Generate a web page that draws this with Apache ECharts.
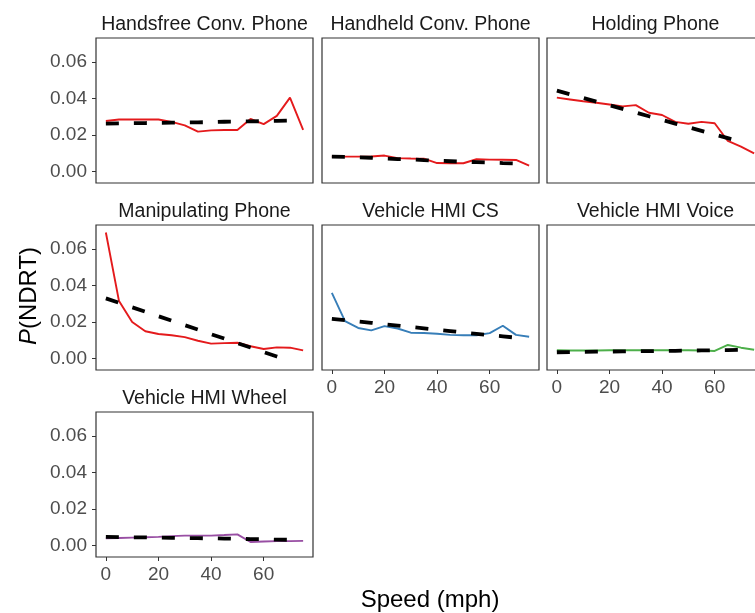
<!DOCTYPE html>
<html>
<head>
<meta charset="utf-8">
<script src="https://cdn.jsdelivr.net/npm/echarts@6/dist/echarts.min.js"></script>
<style>
html,body{margin:0;padding:0;background:#fff;overflow:hidden;}
#chart{width:772px;height:613px;}
</style>
</head>
<body>
<div id="chart"></div>
<script>
// ---- data ----
const speeds = [0,5,10,15,20,25,30,35,40,45,50,55,60,65,70,75];
const fitSpeeds = [0,5,10,15,20,25,30,35,40,45,50,55,60,65,70];
const yTicks = [0, 0.02, 0.04, 0.06];
const xTicks = [0, 20, 40, 60];
const panelTitles = ["Handsfree Conv. Phone","Handheld Conv. Phone","Holding Phone","Manipulating Phone","Vehicle HMI CS","Vehicle HMI Voice","Vehicle HMI Wheel"];

const handsfreeObs = [0.0277,0.0285,0.0285,0.0285,0.0285,0.0272,0.0253,0.0219,0.0226,0.0228,0.0228,0.0288,0.0260,0.0305,0.0405,0.0228];
const handsfreeFit = [0.0263,0.0264,0.0265,0.0266,0.0267,0.0268,0.0269,0.0270,0.0271,0.0273,0.0274,0.0275,0.0276,0.0278,0.0280];
const handheldObs = [0.0082,0.0082,0.0082,0.0083,0.0088,0.0074,0.0072,0.0071,0.0047,0.0046,0.0046,0.0068,0.0066,0.0065,0.0064,0.0033];
const handheldFit = [0.0082,0.0081,0.0078,0.0076,0.0072,0.0069,0.0067,0.0063,0.0060,0.0057,0.0054,0.0052,0.0050,0.0047,0.0045];
const holdingObs = [0.0405,0.0395,0.0385,0.0377,0.0367,0.0357,0.0364,0.0322,0.0310,0.0272,0.0262,0.0272,0.0265,0.0168,0.0137,0.0100];
const holdingFit = [0.0443,0.0423,0.0403,0.0383,0.0363,0.0343,0.0323,0.0303,0.0283,0.0263,0.0243,0.0223,0.0203,0.0183,0.0163];
const manipObs = [0.0690,0.0315,0.0200,0.0150,0.0135,0.0128,0.0118,0.0098,0.0082,0.0085,0.0087,0.0068,0.0053,0.0062,0.0060,0.0045];
const manipFit = [0.0330,0.0306,0.0281,0.0257,0.0232,0.0208,0.0183,0.0159,0.0134,0.0110,0.0085,0.0061,0.0036,0.0012,-0.0013];
const csObs = [0.0360,0.0205,0.0168,0.0155,0.0178,0.0165,0.0142,0.0140,0.0136,0.0130,0.0128,0.0128,0.0140,0.0180,0.0130,0.0120];
const csFit = [0.0218,0.0211,0.0203,0.0196,0.0188,0.0181,0.0173,0.0166,0.0158,0.0151,0.0143,0.0136,0.0129,0.0122,0.0115];
const voiceObs = [0.0046,0.0045,0.0045,0.0045,0.0046,0.0046,0.0046,0.0046,0.0046,0.0046,0.0046,0.0045,0.0042,0.0075,0.0060,0.0049];
const voiceFit = [0.0035,0.0036,0.0037,0.0038,0.0039,0.0040,0.0041,0.0041,0.0042,0.0043,0.0044,0.0045,0.0046,0.0047,0.0048];
const wheelObs = [0.0040,0.0042,0.0044,0.0046,0.0048,0.0052,0.0055,0.0055,0.0055,0.0058,0.0062,0.0020,0.0023,0.0025,0.0025,0.0026];
const wheelFit = [0.0048,0.0047,0.0046,0.0045,0.0044,0.0043,0.0042,0.0041,0.0040,0.0039,0.0037,0.0036,0.0035,0.0033,0.0032];

const obsSets = [handsfreeObs, handheldObs, holdingObs, manipObs, csObs, voiceObs, wheelObs];
const fitSets = [handsfreeFit, handheldFit, holdingFit, manipFit, csFit, voiceFit, wheelFit];
const lineColors = ["#E41A1C","#E41A1C","#E41A1C","#E41A1C","#377EB8","#4DAF4A","#984EA3"];

// ---- layout ----
const FONT = "'Liberation Sans', Arial, sans-serif";
const colLeft = [96, 322, 547];
const rowTop = [38, 225, 412];
const PW = 217, PH = 145;

const grids = [], xAxes = [], yAxes = [], series = [], graphics = [];
const pair = (xs, ys) => xs.map((x, i) => [x, ys[i]]);

panelTitles.forEach((title, i) => {
  const col = i % 3, row = Math.floor(i / 3);
  const showY = col === 0;
  const showX = row === 2 || (row === 1 && col > 0);
  grids.push({
    left: colLeft[col], top: rowTop[row], width: PW, height: PH,
    show: true, borderColor: '#333333', borderWidth: 1.2, backgroundColor: 'transparent',
    containLabel: false, outerBoundsMode: 'none'
  });
  xAxes.push({
    gridIndex: i, type: 'value', min: -3.75, max: 78.75, position: 'bottom',
    splitLine: {show: false},
    axisLine: {show: true, onZero: false, lineStyle: {color: 'rgba(0,0,0,0)'}},
    axisTick: {show: showX, inside: false, length: 4, customValues: xTicks, lineStyle: {color: '#333333', width: 1}},
    axisLabel: {show: showX, customValues: xTicks, margin: 8, color: '#4D4D4D', fontSize: 19, fontFamily: FONT}
  });
  yAxes.push({
    gridIndex: i, type: 'value', min: -0.0062, max: 0.0731, position: 'left',
    splitLine: {show: false},
    axisLine: {show: true, onZero: false, lineStyle: {color: 'rgba(0,0,0,0)'}},
    axisTick: {show: showY, inside: false, length: 4, customValues: yTicks, lineStyle: {color: '#333333', width: 1}},
    axisLabel: {show: showY, customValues: yTicks, margin: 9, color: '#4D4D4D', fontSize: 19, fontFamily: FONT,
      formatter: v => Number(v).toFixed(2)}
  });
  series.push({
    type: 'line', xAxisIndex: i, yAxisIndex: i, data: pair(speeds, obsSets[i]),
    symbol: 'none', lineStyle: {color: lineColors[i], width: 1.9}, z: 2, silent: true
  });
  series.push({
    type: 'line', xAxisIndex: i, yAxisIndex: i, data: pair(fitSpeeds, fitSets[i]),
    symbol: 'none', lineStyle: {color: '#000000', width: 3.8, type: [13, 15], cap: 'butt'}, z: 3, silent: true
  });
  graphics.push({
    type: 'text', x: colLeft[col] + PW / 2, y: rowTop[row] - 13,
    style: {text: title, fill: '#1A1A1A', font: '19.5px ' + FONT, textAlign: 'center', textVerticalAlign: 'middle'}
  });
});

graphics.push({
  type: 'text', x: 430, y: 600,
  style: {text: 'Speed (mph)', fill: '#000000', font: '24px ' + FONT, textAlign: 'center', textVerticalAlign: 'middle'}
});
graphics.push({
  type: 'text', x: 29, y: 296, rotation: Math.PI / 2,
  style: {
    text: '{i|P}{n|(NDRT)}', textAlign: 'center', textVerticalAlign: 'middle',
    rich: {
      i: {fontStyle: 'italic', fontSize: 24, fontFamily: FONT, fill: '#000000'},
      n: {fontSize: 24, fontFamily: FONT, fill: '#000000'}
    }
  }
});

const chart = echarts.init(document.getElementById('chart'), null, {renderer: 'canvas'});
chart.setOption({
  animation: false,
  backgroundColor: '#ffffff',
  grid: grids, xAxis: xAxes, yAxis: yAxes, series: series,
  graphic: graphics
});
</script>
</body>
</html>
